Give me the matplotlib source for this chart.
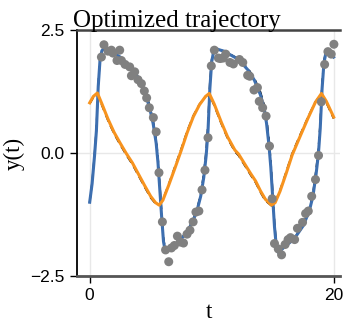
import numpy as np
import matplotlib.pyplot as plt

# readings from the reference plot
t_y1 = [0.0, 0.2, 0.4, 0.55, 0.7, 0.85, 1.0, 1.2, 1.5, 2.0, 2.5, 3.0, 3.5, 4.0, 4.5,
        4.9, 5.2, 5.45, 5.6, 5.75, 5.9, 6.05, 6.2, 6.4, 6.8, 7.2, 7.6, 8.0, 8.4,
        8.8, 9.1, 9.35, 9.55, 9.7, 9.85, 10.0, 10.15, 10.35, 10.6, 11.0, 11.5,
        12.0, 12.5, 13.0, 13.5, 14.0, 14.3, 14.5, 14.7, 14.85, 15.0, 15.15, 15.3,
        15.45, 15.7, 16.0, 16.5, 17.0, 17.5, 18.0, 18.3, 18.55, 18.75, 18.9,
        19.05, 19.2, 19.35, 19.6, 20.0]
y1_fit = [-1.0, -0.62, -0.05, 0.45, 1.35, 1.9, 2.08, 2.13, 2.1, 2.03, 1.95, 1.83, 1.7,
          1.52, 1.25, 0.93, 0.6, 0.2, -0.2, -0.75, -1.3, -1.8, -2.0, -1.97, -1.9,
          -1.82, -1.72, -1.6, -1.42, -1.17, -0.88, -0.5, -0.05, 0.45, 1.3, 1.85,
          2.05, 2.12, 2.1, 2.07, 2.0, 1.93, 1.82, 1.68, 1.48, 1.18, 0.9, 0.6, 0.15,
          -0.3, -0.9, -1.5, -1.9, -2.02, -1.97, -1.9, -1.8, -1.66, -1.48, -1.18,
          -0.88, -0.45, -0.02, 0.5, 1.3, 1.82, 2.02, 2.1, 1.95]
y1_true = [-1.0, -0.6, -0.02, 0.5, 1.4, 1.92, 2.08, 2.12, 2.09, 2.02, 1.95, 1.84, 1.72,
           1.55, 1.3, 0.98, 0.66, 0.28, -0.1, -0.65, -1.2, -1.72, -1.98, -1.97, -1.9,
           -1.82, -1.71, -1.58, -1.4, -1.14, -0.84, -0.42, 0.05, 0.6, 1.42, 1.9,
           2.07, 2.12, 2.1, 2.07, 2.01, 1.94, 1.84, 1.71, 1.52, 1.24, 0.98, 0.7, 0.28,
           -0.18, -0.78, -1.4, -1.85, -2.0, -1.97, -1.9, -1.79, -1.64, -1.45, -1.14,
           -0.82, -0.36, 0.08, 0.62, 1.42, 1.88, 2.04, 2.1, 1.96]

t_y2 = [0.0, 0.3, 0.63, 1.0, 1.5, 2.0, 2.5, 3.0, 3.5, 4.0, 4.5, 5.0, 5.4, 5.7, 6.0,
        6.5, 7.0, 7.5, 8.0, 8.5, 9.0, 9.5, 9.8, 10.2, 10.8, 11.3, 11.9, 12.2, 12.7,
        13.2, 13.6, 14.0, 14.4, 14.9, 15.2, 15.6, 16.1, 16.6, 17.2, 17.9, 18.5,
        19.0, 19.4, 20.0]
y2_fit = [1.02, 1.15, 1.22, 1.0, 0.69, 0.42, 0.2, -0.01, -0.2, -0.43, -0.66, -0.88,
          -1.01, -1.06, -0.96, -0.64, -0.3, 0.05, 0.42, 0.74, 0.98, 1.15, 1.21, 1.0,
          0.62, 0.33, 0.06, -0.02, -0.22, -0.42, -0.57, -0.77, -0.94, -1.06, -1.01,
          -0.78, -0.42, -0.04, 0.31, 0.71, 1.03, 1.21, 1.05, 0.73]
y2_true = [1.0, 1.13, 1.2, 0.97, 0.66, 0.39, 0.17, -0.04, -0.23, -0.46, -0.69, -0.91,
           -1.03, -1.06, -0.95, -0.62, -0.27, 0.08, 0.45, 0.76, 0.99, 1.15, 1.2, 0.97,
           0.59, 0.3, 0.03, -0.05, -0.25, -0.45, -0.6, -0.8, -0.97, -1.07, -1.0,
           -0.76, -0.39, -0.01, 0.34, 0.73, 1.04, 1.2, 1.02, 0.7]

t_obs = [0.96, 1.17, 1.5, 1.78, 1.91, 2.24, 2.46, 2.6, 2.9, 3.28, 3.42, 3.69, 3.96,
         4.24, 4.48, 4.67, 4.89, 5.22, 5.45, 5.68, 5.96, 6.22, 6.48, 6.7, 6.94, 7.19,
         7.42, 7.69, 7.98, 8.22, 8.48, 8.71, 8.95, 9.21, 9.45, 9.7, 9.97, 10.22,
         10.55, 10.71, 10.95, 11.15, 11.5, 11.78, 12.28, 12.55, 12.95, 13.12, 13.47,
         13.75, 13.9, 14.18, 14.46, 14.74, 14.96, 15.15, 15.46, 15.73, 16.02, 16.26,
         16.46, 16.8, 17.03, 17.45, 17.7, 17.92, 18.2, 18.51, 18.76, 18.99, 19.26,
         19.53, 19.8, 20.02]
y_obs = [1.95, 2.2, 2.07, 2.09, 2.03, 1.88, 2.09, 1.88, 1.8, 1.75, 1.57, 1.65, 1.49,
         1.41, 1.26, 1.12, 0.92, 0.72, 0.43, -0.4, -1.4, -1.97, -2.21, -1.93, -1.88,
         -1.69, -1.81, -1.83, -1.65, -1.57, -1.4, -1.2, -1.18, -0.75, -0.35, 0.31,
         1.77, 2.09, 1.93, 1.92, 1.93, 2.01, 1.84, 1.81, 1.9, 1.84, 1.58, 1.56, 1.28,
         1.33, 1.05, 0.92, 0.75, 0.14, -0.93, -1.84, -1.95, -2.07, -1.86, -1.76,
         -1.72, -1.76, -1.53, -1.41, -1.23, -1.18, -0.88, -0.54, -0.05, 1.04, 1.8,
         2.06, 2.01, 2.21]

xticks = [0, 20]
yticks = [-2.5, 0.0, 2.5]
ytick_labels = ["\u22122.5", "0.0", "2.5"]

BLUE = "#3d6fb0"
ORANGE = "#f7931e"

fig = plt.figure(figsize=(3.45, 3.25), dpi=100)
ax = fig.add_axes([77 / 345, 1 - 276 / 325, 263 / 345, 246 / 325])

# true solution (dashed) sits under the fitted curves
ax.plot(t_y1, y1_true, color="black", lw=1.3, ls=(0, (4, 2.5)), zorder=2)
ax.plot(t_y2, y2_true, color="black", lw=1.3, ls=(0, (4, 2.5)), zorder=2)
ax.plot(t_y1, y1_fit, color=BLUE, lw=2.2, zorder=3)
ax.plot(t_y2, y2_fit, color=ORANGE, lw=2.2, zorder=3)
ax.scatter(t_obs, y_obs, s=42, color="#808080", edgecolors="none", zorder=5)

ax.set_xlim(-1.04, 20.52)
ax.set_ylim(-2.5, 2.5)
ax.set_xticks(xticks)
ax.set_yticks(yticks)
ax.set_yticklabels(ytick_labels)
ax.grid(True, color="#e8e8e8", lw=1.0, zorder=0)
ax.set_axisbelow(True)

for lab in ax.get_xticklabels() + ax.get_yticklabels():
    lab.set_fontfamily("Liberation Sans")
    lab.set_fontsize(12.5)
ax.tick_params(axis="both", direction="out", length=5, width=1, pad=4)

ax.spines["right"].set_visible(False)
ax.spines["left"].set_color("black")
ax.spines["left"].set_linewidth(1.3)
ax.spines["top"].set_color("#444444")
ax.spines["top"].set_linewidth(1.8)
ax.spines["bottom"].set_color("#555555")
ax.spines["bottom"].set_linewidth(2.0)

ax.set_xlabel("t", fontfamily="Liberation Serif", fontsize=16.5, labelpad=-1)
ax.set_ylabel("y(t)", fontfamily="Liberation Serif", fontsize=16.5, labelpad=4)
fig.text(73 / 345, 1 - 27 / 325, "Optimized trajectory", fontfamily="Liberation Serif",
         fontsize=18, ha="left", va="baseline")

fig.savefig("out.png", dpi=100)
